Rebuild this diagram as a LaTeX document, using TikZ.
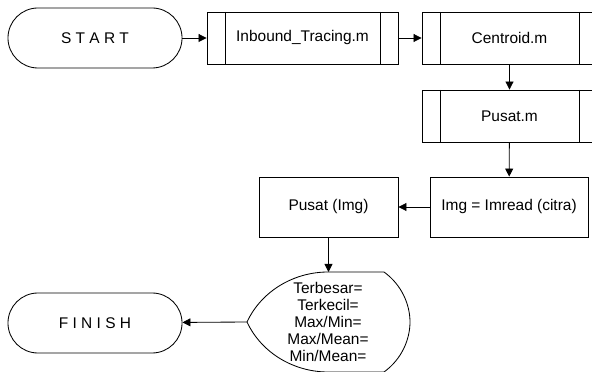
\documentclass[tikz,border=0pt]{standalone}
\usepackage{fontspec}
\setmainfont{Liberation Sans}
\usepackage{tikz}
\usetikzlibrary{arrows.meta}
\tikzstyle{startstop} = [rectangle, rounded corners=0.75cm, minimum width=4.35cm, minimum height=1.5cm, text centered, draw=black]
\tikzstyle{process} = [rectangle, minimum height=1.5cm, text centered, draw=black]
\tikzstyle{subproc} = [rectangle, minimum height=1.3cm, text centered, draw=black,
  path picture={\draw ([xshift=0.45cm]path picture bounding box.north west) -- ([xshift=0.45cm]path picture bounding box.south west)
    ([xshift=-0.45cm]path picture bounding box.north east) -- ([xshift=-0.45cm]path picture bounding box.south east);}]
\tikzstyle{arrow} = [line width=0.6pt,->,>={Triangle[length=2mm,width=2mm]}]

\begin{document}
\begin{tikzpicture}[x=0.025cm, y=-0.025cm, line width=0.6pt, font=\fontsize{11}{12.1}\selectfont]
	\clip (0,0) rectangle (592,372);
	\node (start) [startstop] at (95,38) {S T A R T};
	\node (inb) [subproc, minimum width=4.775cm] at (302.5,38) {Inbound\_Tracing.m};
	\node (cen) [subproc, minimum width=4.375cm] at (509.5,38) {Centroid.m};
	\node (pm) [subproc, minimum width=4.375cm] at (509.5,116) {Pusat.m};
	\node (img) [process, minimum width=3.95cm] at (509,207) {Img = Imread (citra)};
	\node (pimg) [process, minimum width=3.475cm] at (328.5,207) {Pusat (Img)};
	% display
	\draw (247,322) .. controls (262,290) and (295,272) .. (328,272) -- (384,272)
		.. controls (402,285) and (410,305) .. (410,322)
		.. controls (410,339) and (402,359) .. (384,372) -- (328,372)
		.. controls (295,372) and (262,354) .. (247,322) -- cycle;
	\node (res) [align=center] at (328,322) {Terbesar=\\Terkecil=\\Max/Min=\\Max/Mean=\\Min/Mean=};
	\coordinate (restop) at (328.5,272);
	\coordinate (resin) at (247,322);
	\node (finish) [startstop] at (95,323) {F I N I S H};
	\draw [arrow] (start) -- (inb);
	\draw [arrow] (inb) -- (cen);
	\draw [arrow] (cen) -- (pm);
	\draw [arrow] (pm) -- (img);
	\draw [arrow] (img) -- (pimg);
	\draw [arrow] (pimg) -- (restop);
	\draw [arrow] (resin) -- (finish);
\end{tikzpicture}
\end{document}
